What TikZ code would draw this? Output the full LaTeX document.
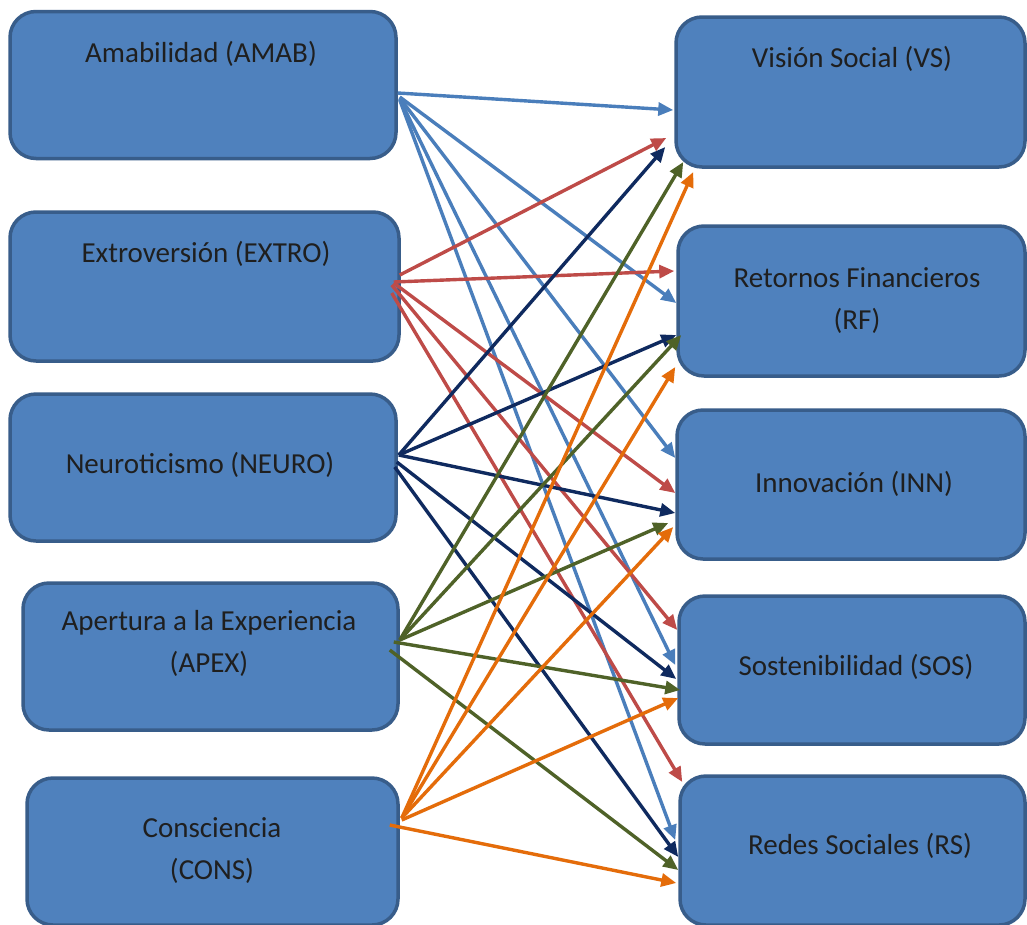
\documentclass[tikz,border=0pt]{standalone}
\usepackage{fontspec}
\setmainfont{Carlito}
\usepackage{tikz}
\usetikzlibrary{arrows.meta}

\definecolor{boxfill}{HTML}{4F81BD}
\definecolor{boxline}{HTML}{385D8A}
\definecolor{amabcol}{HTML}{4A7EBB}
\definecolor{extrocol}{HTML}{BE4B48}
\definecolor{neurocol}{HTML}{0F2A5F}
\definecolor{apexcol}{HTML}{4F6228}
\definecolor{conscol}{HTML}{E46C0A}

\begin{document}
\begin{tikzpicture}[
    x=1pt, y=-1pt,
    every node/.style={font=\fontsize{29}{42}\selectfont, text=black!88},
    box/.style={draw=boxline, fill=boxfill, line width=3.5pt, rounded corners=26pt},
    boxtext/.style={align=center, inner sep=0pt},
    link/.style={-{Triangle[length=15pt,width=13pt]}, line width=3.4pt}
]
\path[fill=white] (0,0) rectangle (1027,924);
\useasboundingbox (0,0) rectangle (1027,924);

% Personality traits (left)
\node[box, minimum width=386pt, minimum height=147pt] (amab) at (203,85) {};
\node[box, minimum width=389pt, minimum height=149pt] (extro) at (204.5,286.5) {};
\node[box, minimum width=386pt, minimum height=147pt] (neuro) at (203,467.5) {};
\node[box, minimum width=375pt, minimum height=147pt] (apex) at (210.5,656.5) {};
\node[box, minimum width=371pt, minimum height=147pt] (cons) at (212.5,851.5) {};

\node[boxtext] (amab-t) at (201,54) {Amabilidad (AMAB)};
\node[boxtext] (extro-t) at (206,254) {Extroversión (EXTRO)};
\node[boxtext] (neuro-t) at (200,465) {Neuroticismo (NEURO)};
\node[boxtext] (apex-t) at (209,643) {Apertura a la Experiencia\\(APEX)};
\node[boxtext] (cons-t) at (212,851) {Consciencia\\(CONS)};

% Entrepreneurial dimensions (right)
\node[box, minimum width=349pt, minimum height=150pt] (vs) at (850.5,92) {};
\node[box, minimum width=347pt, minimum height=150pt] (rf) at (851.5,301) {};
\node[box, minimum width=348pt, minimum height=149pt] (inn) at (851,484.5) {};
\node[box, minimum width=346pt, minimum height=148pt] (sos) at (852,670) {};
\node[box, minimum width=345pt, minimum height=149pt] (rs) at (852.5,850.5) {};

\node[boxtext] (vs-t) at (852,59) {Visión Social (VS)};
\node[boxtext] (rf-t) at (857,301) {Retornos Financieros\\(RF)};
\node[boxtext] (inn-t) at (854,484) {Innovación (INN)};
\node[boxtext] (sos-t) at (856,667) {Sostenibilidad (SOS)};
\node[boxtext] (rs-t) at (860,846) {Redes Sociales (RS)};

% Links from each trait to every dimension
\foreach \t/\sx/\sy/\ex/\ey in {vs/0/8/-1/18, rf/2/12/0/2, inn/2/13/0/-26.5, sos/2/14/-2/-5, rs/2/15/-3/-10.5}
    \draw[link, amabcol] ([shift={(\sx,\sy)}]amab.east) -- ([shift={(\ex,\ey)}]\t.west);

\foreach \t/\sx/\sy/\ex/\ey in {vs/-1/-11.5/-8/46, rf/-7/-4.5/-2/-30, inn/-7/-3.5/0/8.5, sos/-9/-1.5/0/-40, rs/-9/6.5/4/-68.5}
    \draw[link, extrocol] ([shift={(\sx,\sy)}]extro.east) -- ([shift={(\ex,\ey)}]\t.west);

\foreach \t/\sx/\sy/\ex/\ey in {vs/1/-12.5/-9/55, rf/1/-12.5/0/34, inn/1/-12.5/0/28.5, sos/-1/-5.5/-1/9, rs/-3/-0.5/0/6.5}
    \draw[link, neurocol] ([shift={(\sx,\sy)}]neuro.east) -- ([shift={(\ex,\ey)}]\t.west);

\foreach \t/\sx/\sy/\ex/\ey in {vs/0/-16.5/9/70, rf/0/-16.5/5/34, inn/0/-16.5/-7/38.5, sos/-6/-14.5/3/20, rs/-10/-6.5/0/19.5}
    \draw[link, apexcol] ([shift={(\sx,\sy)}]apex.east) -- ([shift={(\ex,\ey)}]\t.west);

\foreach \t/\sx/\sy/\ex/\ey in {vs/2/-33.5/19/80, rf/2/-33.5/-1/66, inn/2/-33.5/-2/42.5, sos/2/-31.5/1/28, rs/-10/-26.5/-2/32.5}
    \draw[link, conscol] ([shift={(\sx,\sy)}]cons.east) -- ([shift={(\ex,\ey)}]\t.west);

\end{tikzpicture}
\end{document}
